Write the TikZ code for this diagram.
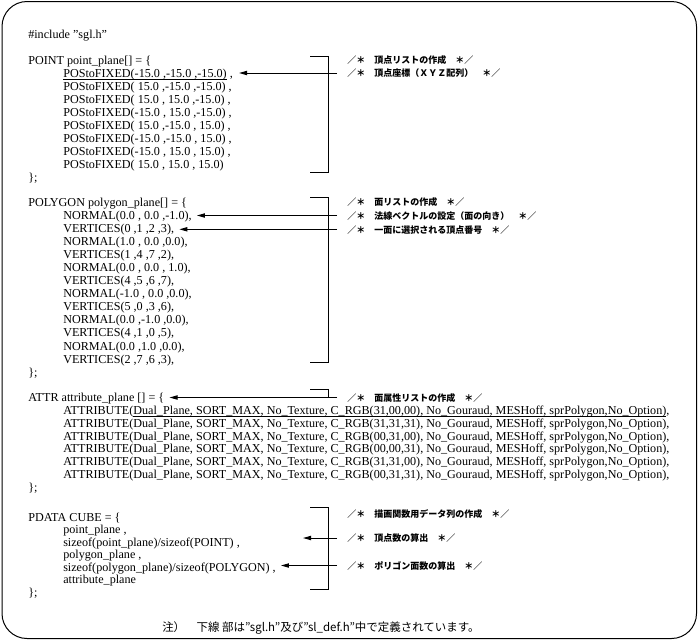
\documentclass[tikz,border=0pt]{standalone}
\usepackage{fontspec}
\setmainfont{Liberation Serif}
\newfontfamily\jp{Noto Sans CJK JP}
\usetikzlibrary{arrows.meta,calc}
\newcommand\ulx[1]{\setbox0\hbox{#1}\rlap{\rule[-1.8pt]{\wd0}{0.6pt}}\box0\relax}
\tikzset{
  code/.style={anchor=base west, inner sep=0pt, font=\fontsize{9.1pt}{11pt}\selectfont},
  cmt/.style={anchor=base west, inner sep=0pt, font=\jp\bfseries\fontsize{6.75pt}{8pt}\selectfont},
  notetext/.style={anchor=base west, inner sep=0pt, font=\jp\fontsize{8.6pt}{9pt}\selectfont},
  brk/.style={line width=0.75pt},
  arr/.style={line width=0.75pt, -{Triangle[length=6pt,width=3.2pt]}},
  framebox/.style={line width=0.75pt, rounded corners=18.75pt}
}
\begin{document}
\begin{tikzpicture}[x=0.75pt,y=-0.75pt]
\useasboundingbox (0,0) rectangle (698,640);
\draw[framebox] (2,1.5) rectangle (696.5,638.5);

% ---------- POINT ----------
\node[code] (inc) at (28,38) {\#include \char34\relax sgl.h\char34\relax};
\node[code] (pt) at (28,64.5) {POINT point\_plane[] = \{};
\node[code] (p1) at (63,77.0) {\ulx{POStoFIXED(-15.0 ,-15.0 ,-15.0)} ,};
\node[code] (p2) at (63,90.1) {POStoFIXED( 15.0 ,-15.0 ,-15.0) ,};
\node[code] (p3) at (63,103.2) {POStoFIXED( 15.0 , 15.0 ,-15.0) ,};
\node[code] (p4) at (63,116.3) {POStoFIXED(-15.0 , 15.0 ,-15.0) ,};
\node[code] (p5) at (63,129.4) {POStoFIXED( 15.0 ,-15.0 , 15.0) ,};
\node[code] (p6) at (63,142.5) {POStoFIXED(-15.0 ,-15.0 , 15.0) ,};
\node[code] (p7) at (63,155.6) {POStoFIXED(-15.0 , 15.0 , 15.0) ,};
\node[code] (p8) at (63,168.7) {POStoFIXED( 15.0 , 15.0 , 15.0)};
\node[code] (pe) at (28,181.8) {\};};
\draw[brk] (310,56) -- (328,56) -- (328,172) -- (310,172);
\coordinate (aA) at (337,73);
\draw[arr] (aA) -- ($(aA -| p1.east)+(6,0)$);
\node[cmt] (cA1) at (347,63.5) {／＊　頂点リストの作成　＊／};
\node[cmt] (cA2) at (347,76.5) {／＊　頂点座標（ＸＹＺ配列）　＊／};

% ---------- POLYGON ----------
\node[code] (pg) at (28,206.5) {POLYGON polygon\_plane[] = \{};
\node[code] (g1) at (63,219.0) {NORMAL(0.0 , 0.0 ,-1.0),};
\node[code] (g2) at (63,232.1) {VERTICES(0 ,1 ,2 ,3),};
\node[code] (g3) at (63,245.2) {NORMAL(1.0 , 0.0 ,0.0),};
\node[code] (g4) at (63,258.3) {VERTICES(1 ,4 ,7 ,2),};
\node[code] (g5) at (63,271.4) {NORMAL(0.0 , 0.0 , 1.0),};
\node[code] (g6) at (63,284.5) {VERTICES(4 ,5 ,6 ,7),};
\node[code] (g7) at (63,297.6) {NORMAL(-1.0 , 0.0 ,0.0),};
\node[code] (g8) at (63,310.7) {VERTICES(5 ,0 ,3 ,6),};
\node[code] (g9) at (63,323.8) {NORMAL(0.0 ,-1.0 ,0.0),};
\node[code] (g10) at (63,336.9) {VERTICES(4 ,1 ,0 ,5),};
\node[code] (g11) at (63,350.0) {NORMAL(0.0 ,1.0 ,0.0),};
\node[code] (g12) at (63,363.1) {VERTICES(2 ,7 ,6 ,3),};
\node[code] (ge) at (28,376.2) {\};};
\draw[brk] (310,197) -- (328,197) -- (328,362) -- (310,362);
\coordinate (aB1) at (337,215.5);
\coordinate (aB2) at (337,229.3);
\draw[arr] (aB1) -- ($(aB1 -| g1.east)+(5,0)$);
\draw[arr] (aB2) -- ($(aB2 -| g2.east)+(5,0)$);
\node[cmt] (cB1) at (347,205.5) {／＊　面リストの作成　＊／};
\node[cmt] (cB2) at (347,219.5) {／＊　法線ベクトルの設定（面の向き）　＊／};
\node[cmt] (cB3) at (347,233.5) {／＊　一面に選択される頂点番号　＊／};

% ---------- ATTR ----------
\node[code] (at) at (28,401.5) {ATTR attribute\_plane [] = \{};
\node[code] (t1) at (63,414.5) {ATTRIBUTE(\ulx{Dual\_Plane, SORT\_MAX, No\_Texture, C\_RGB(31,00,00), No\_Gouraud, MESHoff, sprPolygon,No\_Option)},};
\node[code] (t2) at (63,427.3) {ATTRIBUTE(Dual\_Plane, SORT\_MAX, No\_Texture, C\_RGB(31,31,31), No\_Gouraud, MESHoff, sprPolygon,No\_Option),};
\node[code] (t3) at (63,440.1) {ATTRIBUTE(Dual\_Plane, SORT\_MAX, No\_Texture, C\_RGB(00,31,00), No\_Gouraud, MESHoff, sprPolygon,No\_Option),};
\node[code] (t4) at (63,452.9) {ATTRIBUTE(Dual\_Plane, SORT\_MAX, No\_Texture, C\_RGB(00,00,31), No\_Gouraud, MESHoff, sprPolygon,No\_Option),};
\node[code] (t5) at (63,465.7) {ATTRIBUTE(Dual\_Plane, SORT\_MAX, No\_Texture, C\_RGB(31,31,00), No\_Gouraud, MESHoff, sprPolygon,No\_Option),};
\node[code] (t6) at (63,478.5) {ATTRIBUTE(Dual\_Plane, SORT\_MAX, No\_Texture, C\_RGB(00,31,31), No\_Gouraud, MESHoff, sprPolygon,No\_Option),};
\node[code] (te) at (28,491.3) {\};};
\draw[brk] (310,389) -- (328,389) -- (328,397.5);
\coordinate (aC) at (337,397.5);
\draw[arr] (aC) -- ($(aC -| at.east)+(5,0)$);
\node[cmt] (cC) at (347,401) {／＊　面属性リストの作成　＊／};

% ---------- PDATA ----------
\node[code] (pd) at (28,521) {PDATA CUBE = \{};
\node[code] (d1) at (63,533.5) {point\_plane ,};
\node[code] (d2) at (63,546.1) {sizeof(point\_plane)/sizeof(POINT) ,};
\node[code] (d3) at (63,558.7) {polygon\_plane ,};
\node[code] (d4) at (63,571.3) {sizeof(polygon\_plane)/sizeof(POLYGON) ,};
\node[code] (d5) at (63,583.9) {attribute\_plane};
\node[code] (de) at (28,596.5) {\};};
\draw[brk] (310,507) -- (328,507) -- (328,589) -- (310,589);
\coordinate (aD1) at (337,538);
\coordinate (tD1) at (303,538);
\coordinate (aD2) at (337,565.5);
\draw[arr] (aD1) -- (tD1);
\draw[arr] (aD2) -- ($(aD2 -| d4.east)+(5,0)$);
\node[cmt] (cD1) at (347,517.5) {／＊　描画関数用データ列の作成　＊／};
\node[cmt] (cD2) at (347,541.5) {／＊　頂点数の算出　＊／};
\node[cmt] (cD3) at (347,569.5) {／＊　ポリゴン面数の算出　＊／};

% ---------- note ----------
\node[notetext] (nt) at (162,631) {注）　下線 部は”sgl.h”及び”sl\_def.h”中で定義されています。};
\end{tikzpicture}
\end{document}
